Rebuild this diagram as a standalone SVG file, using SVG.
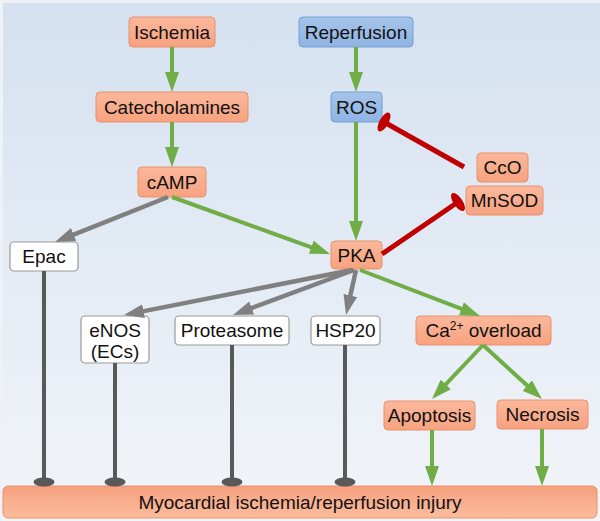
<svg xmlns="http://www.w3.org/2000/svg" width="600" height="521" viewBox="0 0 600 521">
<defs>
<linearGradient id="bg" x1="0" y1="0" x2="0" y2="1">
<stop offset="0" stop-color="#d5e1f0"/>
<stop offset="1" stop-color="#f2f5f9"/>
</linearGradient>
<linearGradient id="og" x1="0" y1="0" x2="0" y2="1">
<stop offset="0" stop-color="#fbb89c"/>
<stop offset="1" stop-color="#f7a27f"/>
</linearGradient>
<linearGradient id="bar" x1="0" y1="0" x2="0" y2="1">
<stop offset="0" stop-color="#f6a07d"/>
<stop offset="1" stop-color="#fbbd9f"/>
</linearGradient>
<linearGradient id="bl" x1="0" y1="0" x2="0" y2="1">
<stop offset="0" stop-color="#a6c4ea"/>
<stop offset="1" stop-color="#8fb3e2"/>
</linearGradient>
<marker id="ag" viewBox="0 0 20 14" refX="10" refY="7" markerWidth="20" markerHeight="14" markerUnits="userSpaceOnUse" orient="auto">
<path d="M0,0 L20,7 L0,14 z" fill="#70ad47"/>
</marker>
<marker id="ay" viewBox="0 0 20 14" refX="10" refY="7" markerWidth="20" markerHeight="14" markerUnits="userSpaceOnUse" orient="auto">
<path d="M0,0 L20,7 L0,14 z" fill="#808080"/>
</marker>
</defs>
<style>
text{font-family:"Liberation Sans",Arial,sans-serif;font-size:19px;fill:#111;text-anchor:middle}
.o{fill:url(#og);stroke:#e8916c;stroke-width:1}
.b{fill:url(#bl);stroke:#729ed6;stroke-width:1}
.w{fill:#fff;stroke:#9a9a9a;stroke-width:1.2}
.g{stroke:#70ad47;stroke-width:4;fill:none;marker-end:url(#ag)}
.y{stroke:#808080;stroke-width:4.5;fill:none;marker-end:url(#ay)}
.r{stroke:#c00000;stroke-width:5;fill:none}
.rc{fill:#c00000}
.d{stroke:#595959;stroke-width:4;fill:none}
.dc{fill:#595959}
</style>
<rect x="0" y="0" width="600" height="521" fill="#eef2f7"/>
<rect x="3" y="3" width="597" height="518" fill="url(#bg)"/>

<g id="node-ischemia"><rect class="o" x="129" y="17" width="86" height="30" rx="4"/><text x="172" y="39">Ischemia</text></g>
<g id="node-reperfusion"><rect class="b" x="299" y="17" width="114" height="30" rx="4"/><text x="356" y="39">Reperfusion</text></g>
<g id="node-catecholamines"><rect class="o" x="96" y="92" width="152" height="30" rx="4"/><text x="172" y="114">Catecholamines</text></g>
<g id="node-ros"><rect class="b" x="331" y="92" width="51" height="30" rx="4"/><text x="356.5" y="114">ROS</text></g>
<g id="node-camp"><rect class="o" x="138" y="167" width="68" height="30" rx="4"/><text x="172" y="189">cAMP</text></g>
<g id="node-cco"><rect class="o" x="477" y="153" width="51" height="29" rx="4"/><text x="502.5" y="174">CcO</text></g>
<g id="node-mnsod"><rect class="o" x="466" y="186" width="77" height="29" rx="4"/><text x="504.5" y="207">MnSOD</text></g>
<g id="node-epac"><rect class="w" x="10" y="242" width="68" height="29" rx="4"/><text x="44" y="263">Epac</text></g>
<g id="node-pka"><rect class="o" x="331" y="241" width="51" height="28" rx="4"/><text x="356.5" y="262">PKA</text></g>
<g id="node-enos"><rect class="w" x="81" y="316" width="68" height="47" rx="4"/><text x="115" y="337">eNOS</text><text x="115" y="358">(ECs)</text></g>
<g id="node-proteasome"><rect class="w" x="175" y="316" width="114" height="29" rx="4"/><text x="232" y="337">Proteasome</text></g>
<g id="node-hsp20"><rect class="w" x="311" y="316" width="69" height="29" rx="4"/><text x="345.5" y="337">HSP20</text></g>
<g id="node-ca"><rect class="o" x="416" y="316" width="135" height="29" rx="4"/><text x="483.5" y="337">Ca<tspan font-size="12" dy="-7">2+</tspan><tspan dy="7"> overload</tspan></text></g>
<g id="node-apoptosis"><rect class="o" x="384" y="401" width="91" height="29" rx="4"/><text x="429.5" y="422">Apoptosis</text></g>
<g id="node-necrosis"><rect class="o" x="497" y="400" width="91" height="29" rx="4"/><text x="542.5" y="421">Necrosis</text></g>
<g id="node-injury"><rect x="3" y="486" width="594" height="32" rx="5" fill="url(#bar)" stroke="#e8916c" stroke-width="1"/><text x="300" y="509">Myocardial ischemia/reperfusion injury</text></g>

<g id="connectors">
<line class="g" x1="172" y1="47" x2="172" y2="82"/>
<line class="g" x1="172" y1="122" x2="172" y2="157"/>
<line class="g" x1="356" y1="47" x2="356" y2="82"/>
<line class="g" x1="356" y1="122" x2="356" y2="231"/>
<line class="g" x1="172" y1="197" x2="320.6" y2="250.6"/>
<line class="y" x1="168" y1="197" x2="64.3" y2="238.3"/>
<line class="y" x1="352" y1="270" x2="133.8" y2="313.1"/>
<line class="y" x1="354" y1="270" x2="242.4" y2="311.5"/>
<line class="y" x1="356" y1="270" x2="348.2" y2="305.2"/>
<line class="g" x1="360" y1="270" x2="470.7" y2="312.4"/>
<line class="g" x1="483" y1="345" x2="438.9" y2="391.7"/>
<line class="g" x1="483" y1="345" x2="534.6" y2="392.3"/>
<line class="g" x1="432" y1="430" x2="432" y2="476"/>
<line class="g" x1="542" y1="429" x2="542" y2="476"/>
<line class="r" x1="464" y1="167" x2="384" y2="122"/>
<ellipse class="rc" cx="384" cy="122" rx="4.5" ry="10.5" transform="rotate(29.4 384 122)"/>
<line class="r" x1="382" y1="254" x2="458" y2="202"/>
<ellipse class="rc" cx="458" cy="202" rx="4.5" ry="10.5" transform="rotate(-34.4 458 202)"/>
<line class="d" x1="44" y1="271" x2="44" y2="482"/>
<ellipse class="dc" cx="44" cy="482" rx="10.5" ry="4.5"/>
<line class="d" x1="115" y1="363" x2="115" y2="482"/>
<ellipse class="dc" cx="115" cy="482" rx="10.5" ry="4.5"/>
<line class="d" x1="232" y1="345" x2="232" y2="482"/>
<ellipse class="dc" cx="232" cy="482" rx="10.5" ry="4.5"/>
<line class="d" x1="345" y1="345" x2="345" y2="482"/>
<ellipse class="dc" cx="345" cy="482" rx="10.5" ry="4.5"/>
</g>
</svg>
